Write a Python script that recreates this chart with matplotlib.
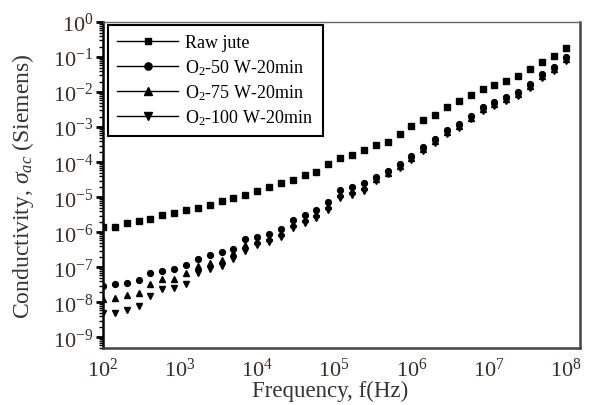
import matplotlib
matplotlib.use('Agg')
import matplotlib.pyplot as plt
from matplotlib.lines import Line2D
from matplotlib.ticker import LogLocator, LogFormatterMathtext, NullFormatter

plt.rcParams['font.family'] = ['Liberation Serif', 'DejaVu Serif']
plt.rcParams['mathtext.fontset'] = 'custom'
plt.rcParams['mathtext.rm'] = 'Liberation Serif'
plt.rcParams['mathtext.it'] = 'Liberation Serif:italic'

# frequencies (Hz)
freq = [1.00e2, 1.42e2, 2.03e2, 2.90e2, 4.12e2, 5.88e2, 8.38e2, 1.19e3, 1.70e3, 2.42e3,
        3.45e3, 4.92e3, 7.02e3, 1.00e4, 1.42e4, 2.03e4, 2.90e4, 4.12e4, 5.88e4, 8.38e4,
        1.19e5, 1.70e5, 2.42e5, 3.45e5, 4.92e5, 7.02e5, 1.00e6, 1.42e6, 2.03e6, 2.90e6,
        4.12e6, 5.88e6, 8.38e6, 1.19e7, 1.70e7, 2.42e7, 3.45e7, 4.92e7, 7.02e7, 1.00e8]

# conductivity (S)
raw_jute = [1.41e-6, 1.41e-6, 1.78e-6, 2.04e-6, 2.45e-6, 3.09e-6, 3.47e-6, 4.27e-6, 4.90e-6, 6.17e-6,
            7.59e-6, 9.33e-6, 1.15e-5, 1.51e-5, 1.95e-5, 2.51e-5, 3.09e-5, 4.37e-5, 5.37e-5, 8.71e-5,
            1.35e-4, 1.62e-4, 2.19e-4, 3.09e-4, 3.80e-4, 6.31e-4, 1.05e-3, 1.62e-3, 2.29e-3, 3.80e-3,
            5.50e-3, 8.13e-3, 1.23e-2, 1.58e-2, 2.14e-2, 2.82e-2, 4.57e-2, 7.41e-2, 1.10e-1, 1.82e-1]

o2_50w = [2.86e-8, 3.27e-8, 3.66e-8, 4.34e-8, 6.74e-8, 7.69e-8, 9.18e-8, 1.19e-7, 1.77e-7, 2.20e-7,
          2.74e-7, 3.42e-7, 6.31e-7, 7.33e-7, 9.18e-7, 1.27e-6, 2.20e-6, 3.06e-6, 4.25e-6, 7.33e-6,
          1.59e-5, 1.96e-5, 2.56e-5, 3.73e-5, 5.79e-5, 8.94e-5, 1.48e-4, 2.68e-4, 4.63e-4, 8.05e-4,
          1.24e-3, 2.15e-3, 3.73e-3, 5.18e-3, 7.19e-3, 1.00e-2, 1.72e-2, 3.33e-2, 5.18e-2, 1.00e-1]

o2_75w = [1.22e-8, 1.33e-8, 1.58e-8, 1.89e-8, 3.27e-8, 4.75e-8, 4.54e-8, 7.06e-8, 1.09e-7, 1.30e-7,
          1.62e-7, 2.51e-7, 4.25e-7, 5.64e-7, 7.06e-7, 9.80e-7, 1.69e-6, 2.35e-6, 3.27e-6, 5.64e-6,
          1.22e-5, 1.51e-5, 1.97e-5, 3.27e-5, 5.08e-5, 7.84e-5, 1.30e-4, 2.35e-4, 4.06e-4, 7.06e-4,
          1.09e-3, 1.89e-3, 3.27e-3, 4.54e-3, 6.31e-3, 8.77e-3, 1.51e-2, 2.92e-2, 4.54e-2, 8.77e-2]

o2_100w = [4.85e-9, 5.08e-9, 6.03e-9, 7.84e-9, 1.51e-8, 2.35e-8, 2.63e-8, 3.27e-8, 6.74e-8, 8.77e-8,
           1.09e-7, 1.69e-7, 2.86e-7, 4.34e-7, 5.43e-7, 7.54e-7, 1.30e-6, 1.81e-6, 2.52e-6, 4.34e-6,
           9.38e-6, 1.16e-5, 1.52e-5, 2.87e-5, 4.46e-5, 6.88e-5, 1.14e-4, 2.06e-4, 3.56e-4, 6.19e-4,
           9.56e-4, 1.66e-3, 2.87e-3, 3.98e-3, 5.54e-3, 7.69e-3, 1.32e-2, 2.56e-2, 3.98e-2, 7.69e-2]

labels = ['Raw jute', 'O$_2$-50 W-20min', 'O$_2$-75 W-20min', 'O$_2$-100 W-20min']
markers = ['s', 'o', '^', 'v']
sizes = [4, 4.2, 5, 5]

fig = plt.figure(figsize=(5.92, 4.06), dpi=100)
ax = fig.add_axes([0.174, 0.140, 0.806, 0.803])

series = [raw_jute, o2_50w, o2_75w, o2_100w]
for ys, m, s in zip(series, markers, sizes):
    ax.plot(freq, ys, linestyle='none', marker=m, markersize=s, color='black')

ax.set_xscale('log')
ax.set_yscale('log')
ax.set_xlim(1e2, 10**8.19)
ax.set_ylim(10**-9.31, 1)

ax.xaxis.set_major_locator(LogLocator(base=10, numticks=20))
ax.xaxis.set_major_formatter(LogFormatterMathtext())
ax.xaxis.set_minor_formatter(NullFormatter())
ax.yaxis.set_major_locator(LogLocator(base=10, numticks=20))
ax.yaxis.set_minor_locator(LogLocator(base=10, subs=range(2, 10), numticks=20))
ax.yaxis.set_major_formatter(LogFormatterMathtext())
ax.yaxis.set_minor_formatter(NullFormatter())

ax.tick_params(axis='x', which='both', length=0, labelsize=16, pad=7, labelcolor='#3a2a2a')
ax.tick_params(axis='y', which='major', direction='out', length=5, width=2, labelsize=16,
               pad=2, labelcolor='#3a2a2a')
ax.tick_params(axis='y', which='minor', direction='out', length=3, width=1)

for side in ['left', 'bottom', 'right']:
    ax.spines[side].set_linewidth(1.8)
ax.spines['top'].set_linewidth(1.0)
ax.spines['bottom'].set_color('#444444')
ax.spines['right'].set_color('#444444')
ax.spines['top'].set_color('#666666')

ax.set_xlabel('Frequency, f(Hz)', fontsize=16.5, color='#333333')
ax.xaxis.set_label_coords(0.476, -0.097)
ax.set_ylabel(r'Conductivity, $\sigma_{ac}$ (Siemens)', fontsize=17, color='#333333')
ax.yaxis.set_label_coords(-0.14, 0.5)

handles = [Line2D([], [], color='black', linewidth=1, marker=m, markersize=s + 1)
           for m, s in zip(markers, sizes)]
leg = ax.legend(handles, labels, loc='upper left', bbox_to_anchor=(0.01, 0.99),
                borderaxespad=0, frameon=True, fancybox=False, framealpha=1,
                edgecolor='black', fontsize=13, handlelength=3.4, labelspacing=0.3,
                handletextpad=0.4, borderpad=0.5)
leg.get_frame().set_linewidth(1.5)

fig.savefig('out.png', dpi=100)
